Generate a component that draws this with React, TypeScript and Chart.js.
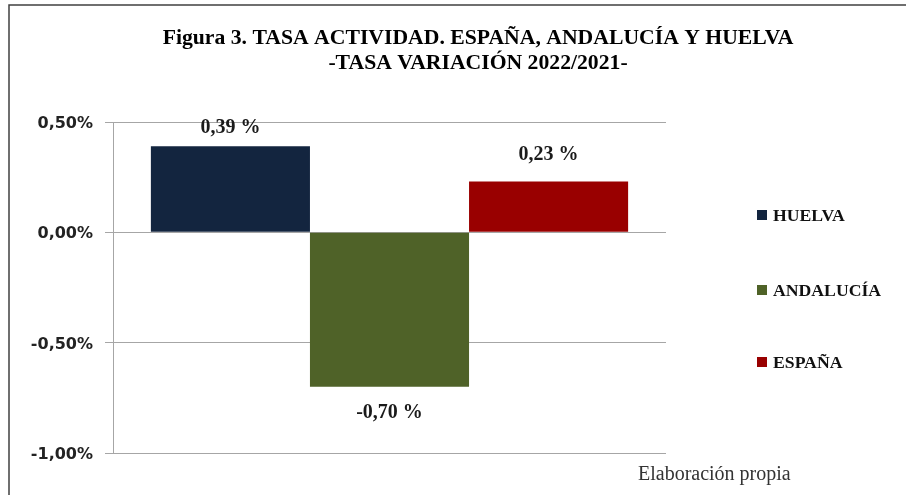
import React, { useEffect, useRef } from "react";
import { Chart, registerables } from "chart.js";

Chart.register(...registerables);

const categories = ["Tasa variación 2022/2021"];
const seriesNames = ["HUELVA", "ANDALUCÍA", "ESPAÑA"];
const seriesValues = [0.39, -0.7, 0.23];
const seriesColors = ["#13253F", "#4F6228", "#990000"];
const titleLines = [
  "Figura 3. TASA ACTIVIDAD. ESPAÑA, ANDALUCÍA Y HUELVA",
  "-TASA VARIACIÓN 2022/2021-",
];
const sourceText = "Elaboración propia";
const yMin = -1;
const yMax = 0.5;
const yStep = 0.5;

const fmtTick = (v: number) => v.toFixed(2).replace(".", ",") + "%";
const fmtLabel = (v: number) => v.toFixed(2).replace(".", ",") + " %";

const SERIF = "'Liberation Serif', 'DejaVu Serif', serif";
const SANS = "'DejaVu Sans', Verdana, sans-serif";

const decorPlugin = {
  id: "decor",
  beforeDraw(chart: any) {
    const ctx = chart.ctx;
    ctx.save();
    ctx.fillStyle = "#ffffff";
    ctx.fillRect(0, 0, chart.width, chart.height);
    ctx.strokeStyle = "#404040";
    ctx.lineWidth = 1.5;
    ctx.beginPath();
    ctx.moveTo(9, chart.height + 2);
    ctx.lineTo(9, 5);
    ctx.lineTo(chart.width + 2, 5);
    ctx.stroke();
    ctx.restore();
  },
  afterDraw(chart: any) {
    const ctx = chart.ctx;
    const area = chart.chartArea;
    ctx.save();
    // title
    ctx.fillStyle = "#000000";
    ctx.textAlign = "center";
    ctx.textBaseline = "middle";
    ctx.font = `bold 21.7px ${SERIF}`;
    const cx = 478;
    ctx.fillText(titleLines[0], cx, 38);
    ctx.fillText(titleLines[1], cx, 63);

    // data labels
    ctx.font = `bold 20px ${SERIF}`;
    chart.data.datasets.forEach((ds: any, i: number) => {
      const meta = chart.getDatasetMeta(i);
      meta.data.forEach((bar: any, j: number) => {
        const v = ds.data[j];
        let y = v >= 0 ? bar.y - 27 : bar.y + 26;
        if (y < area.top + 6) y = area.top + 6;
        ctx.fillStyle = "#1a1a1a";
        ctx.fillText(fmtLabel(v), bar.x, y);
      });
    });

    // legend
    const lx = area.right + 91;
    const ys = [215, 290, 362];
    ctx.textAlign = "left";
    ctx.font = `bold 17.7px ${SERIF}`;
    seriesNames.forEach((name, i) => {
      ctx.fillStyle = seriesColors[i];
      ctx.fillRect(lx, ys[i] - 5, 10, 10);
      ctx.fillStyle = "#111111";
      ctx.fillText(name, lx + 16, ys[i] + 1);
    });

    // source
    ctx.font = `20px ${SERIF}`;
    ctx.fillStyle = "#333333";
    ctx.textAlign = "left";
    ctx.fillText(sourceText, 638, 475);
    ctx.restore();
  },
};

export default function App() {
  const ref = useRef<HTMLCanvasElement | null>(null);
  useEffect(() => {
    if (!ref.current) return;
    const chart = new Chart(ref.current, {
      type: "bar",
      data: {
        labels: categories,
        datasets: seriesNames.map((name, i) => ({
          label: name,
          data: [seriesValues[i]],
          backgroundColor: seriesColors[i],
          borderWidth: 0,
          categoryPercentage: 0.863,
          barPercentage: 1,
        })),
      },
      options: {
        responsive: true,
        maintainAspectRatio: false,
        animation: false,
        layout: { padding: { left: 0, top: 122, right: 240, bottom: 42 } },
        plugins: {
          legend: { display: false },
          title: { display: false },
          tooltip: { enabled: false },
        },
        scales: {
          x: { display: false },
          y: {
            min: yMin,
            max: yMax,
            afterFit(scale: any) {
              scale.width = 113;
            },
            ticks: {
              stepSize: yStep,
              padding: 12,
              labelOffset: 2,
              color: "#222222",
              font: { family: SANS, size: 16, weight: "bold" },
              callback: (v: any) => fmtTick(Number(v)),
            },
            grid: {
              color: "#a6a6a6",
              lineWidth: 1,
              tickLength: 8,
              drawTicks: true,
            },
            border: { color: "#a6a6a6", width: 1 },
          },
        },
      },
      plugins: [decorPlugin],
    });
    return () => chart.destroy();
  }, []);
  return (
    <div style={{ position: "fixed", left: 0, top: 0, width: 906, height: 495, background: "#fff" }}>
      <canvas ref={ref} />
    </div>
  );
}
